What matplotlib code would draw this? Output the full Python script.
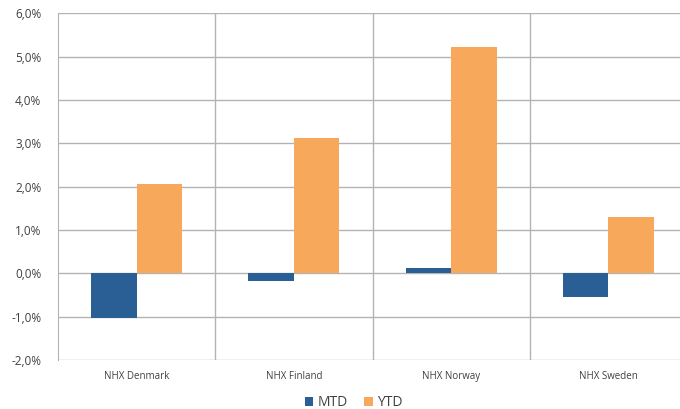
import matplotlib.pyplot as plt
import numpy as np
from matplotlib.ticker import FuncFormatter, FixedLocator

categories = ['NHX Denmark', 'NHX Finland', 'NHX Norway', 'NHX Sweden']
mtd = [-1.03, -0.18, 0.12, -0.55]
ytd = [2.07, 3.11, 5.22, 1.31]

plt.rcParams['font.family'] = ['Open Sans', 'DejaVu Sans']

fig = plt.figure(figsize=(6.8, 4.09), dpi=100)
ax = fig.add_axes([0.0853, 0.1198, 0.925, 0.848])

x = np.arange(len(categories))
w = 0.29
ax.bar(x - w / 2, mtd, w, color='#2A5F95', label='MTD', zorder=3)
ax.bar(x + w / 2, ytd, w, color='#F7A85A', label='YTD', zorder=3)

ax.set_xlim(-0.5, len(categories) - 0.5)
ax.set_ylim(-2, 6)
ax.set_yticks(np.arange(-2, 7, 1))
ax.yaxis.set_major_formatter(FuncFormatter(lambda v, p: f'{v:.1f}%'.replace('.', ',')))
ax.set_xticks(x)
ax.set_xticklabels(categories, fontsize=7, color='#404040')
ax.xaxis.set_minor_locator(FixedLocator(np.arange(0.5, len(categories) - 0.5, 1)))

ax.grid(axis='y', which='major', color='#B3B3B3', linewidth=1, zorder=0)
ax.grid(axis='x', which='minor', color='#B3B3B3', linewidth=1, zorder=0)
ax.tick_params(axis='y', length=0, labelsize=8.5, labelcolor='#404040', pad=12)
ax.tick_params(axis='x', which='both', length=0, pad=8)

for s in ['top', 'right', 'bottom']:
    ax.spines[s].set_visible(False)
ax.spines['left'].set_color('#B3B3B3')

fig.legend(loc='center', bbox_to_anchor=(0.52, 0.015), ncol=2, frameon=False,
           fontsize=10, handlelength=0.6, handleheight=0.6, handletextpad=0.3,
           columnspacing=1.2, labelcolor='#404040')

plt.savefig('out.png', dpi=100)
